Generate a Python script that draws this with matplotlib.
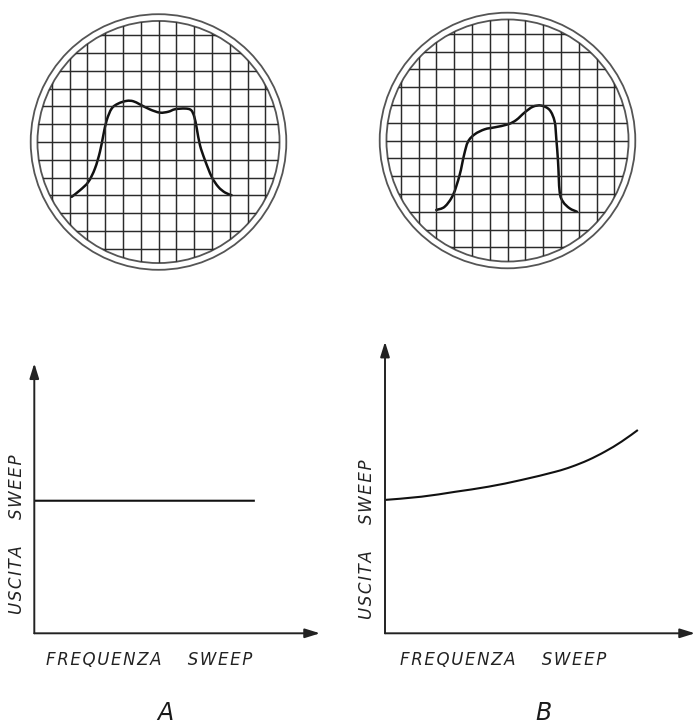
import numpy as np
import matplotlib.pyplot as plt
from matplotlib.patches import Circle, PathPatch
from matplotlib.path import Path

# --- data ------------------------------------------------------------
# oscilloscope traces, in grid divisions (centre of screen = 0,0)
trace_a_x = [-4.88, -4.41, -3.94, -3.57, -3.29, -3.10, -2.91, -2.63, -2.26, -1.79, -1.42, -1.04, -0.48,
             0.08, 0.55, 0.93, 1.49, 1.83, 2.01, 2.15, 2.33, 2.61, 2.99, 3.36, 3.74, 4.11]
trace_a_y = [-3.08, -2.71, -2.24, -1.49, -0.55, 0.38, 1.22, 1.88, 2.16, 2.31, 2.29, 2.11, 1.83,
             1.65, 1.70, 1.84, 1.88, 1.79, 1.42, 0.76, -0.18, -1.02, -1.96, -2.52, -2.84, -2.99]

trace_b_x = [-4.00, -3.53, -3.06, -2.69, -2.44, -2.22, -1.84, -1.28, -0.72, 0.03, 0.49, 0.97,
             1.43, 1.90, 2.37, 2.65, 2.74, 2.84, 2.93, 3.12, 3.49, 3.90]
trace_b_y = [-3.90, -3.72, -3.06, -1.94, -0.81, -0.07, 0.35, 0.63, 0.74, 0.91, 1.15, 1.58,
             1.90, 1.96, 1.71, 1.06, 0.12, -1.19, -2.88, -3.44, -3.81, -4.00]

# sweep output vs sweep frequency
sweep_a_x = [0.0, 7.72]
sweep_a_y = [4.91, 4.91]

sweep_b_x = [0.0, 1.28, 2.45, 3.62, 4.78, 5.95, 6.53, 7.12, 7.70, 8.28, 8.85]
sweep_b_y = [4.94, 5.06, 5.24, 5.43, 5.68, 5.98, 6.17, 6.42, 6.73, 7.10, 7.53]

grid_lines = np.arange(-6, 7)
panel_names = ['A', 'B']
xlabel = ('FREQUENZA', 'SWEEP')
ylabel = ('USCITA', 'SWEEP')

W, H = 695, 724
fig = plt.figure(figsize=(W / 100, H / 100), dpi=100)
INK = '#1a1a1a'


def px_axes(x0, y0, x1, y1):
    # axes box given in picture pixels (y from top)
    return fig.add_axes([x0 / W, 1 - y1 / H, (x1 - x0) / W, (y1 - y0) / H])


def spaced(words):
    return '     '.join('\u200a'.join(w) for w in words)


def smooth_path(xs, ys):
    # pass a bezier through the read points (catmull-rom style handles)
    p = np.column_stack([xs, ys])
    verts = [p[0]]
    codes = [Path.MOVETO]
    n = len(p)
    for i in range(n - 1):
        a = p[max(i - 1, 0)]
        b = p[i]
        c = p[i + 1]
        d = p[min(i + 2, n - 1)]
        verts += [b + (c - a) / 6, c - (d - b) / 6, c]
        codes += [Path.CURVE4] * 3
    return Path(verts, codes)


def scope(cx, cy, tx, ty):
    half = 132
    ax = px_axes(cx - half, cy - half, cx + half, cy + half)
    lim = half / 17.8
    ax.set_xlim(-lim, lim)
    ax.set_ylim(-lim, lim)
    ax.axis('off')
    inner = Circle((0, 0), 6.8, fill=False, lw=1.3, ec='#555')
    outer = Circle((0, 0), 7.18, fill=False, lw=1.3, ec='#555')
    ax.add_patch(inner)
    ax.add_patch(outer)
    for g in grid_lines:
        l1, = ax.plot([g, g], [-7, 7], color='#2b2b2b', lw=1.05)
        l2, = ax.plot([-7, 7], [g, g], color='#2b2b2b', lw=1.05)
        l1.set_clip_path(inner)
        l2.set_clip_path(inner)
    ax.add_patch(PathPatch(smooth_path(tx, ty), fill=False, lw=1.8, ec='#111',
                           capstyle='round', joinstyle='round'))


def sweep(x0, y0, x1, y1, xmax, ymax, sx, sy):
    ax = px_axes(x0, y0, x1, y1)
    ax.set_xlim(0, xmax)
    ax.set_ylim(0, ymax)
    ax.axis('off')
    arrow = dict(arrowstyle='-|>,head_length=0.45,head_width=0.14', mutation_scale=20,
                 lw=1.4, color='#222', shrinkA=0, shrinkB=0)
    ax.annotate('', xy=(1, 0), xytext=(0, 0), xycoords='axes fraction', arrowprops=arrow)
    ax.annotate('', xy=(0, 1), xytext=(0, 0), xycoords='axes fraction', arrowprops=arrow)
    ax.add_patch(PathPatch(smooth_path(sx, sy), fill=False, lw=1.5, ec='#111'))


scope(158.5, 142, trace_a_x, trace_a_y)
scope(507.5, 140.5, trace_b_x, trace_b_y)

sweep(34.3, 363.3, 320, 633.3, 10, 10, sweep_a_x, sweep_a_y)
sweep(385, 341.7, 695, 633.3, 10.85, 10.8, sweep_b_x, sweep_b_y)

tkw = dict(style='italic', color='#222', fontsize=12, ha='center', va='center')
fig.text(149 / W, 1 - 660 / H, spaced(xlabel), **tkw)
fig.text(503 / W, 1 - 660 / H, spaced(xlabel), **tkw)
fig.text(16.7 / W, 1 - 534 / H, spaced(ylabel), rotation=90, **tkw)
fig.text(366.7 / W, 1 - 539 / H, spaced(ylabel), rotation=90, **tkw)

fig.text(165 / W, 1 - 713 / H, panel_names[0], style='italic', fontsize=17, color=INK,
         ha='center', va='center')
fig.text(543 / W, 1 - 713 / H, panel_names[1], style='italic', fontsize=17, color=INK,
         ha='center', va='center')

fig.savefig('out.png', dpi=100, facecolor='white')
